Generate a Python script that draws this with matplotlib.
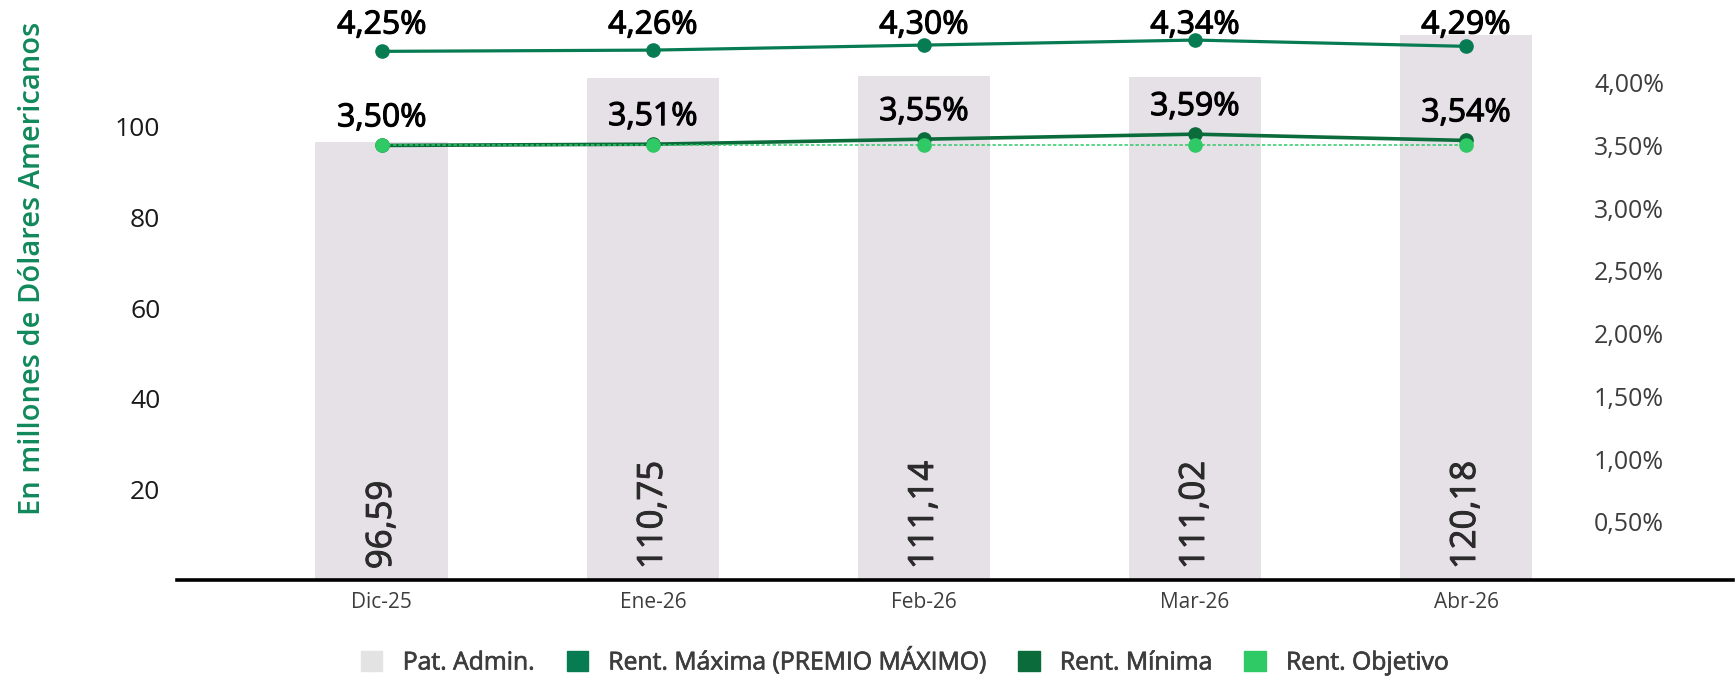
import matplotlib
matplotlib.use('Agg')
import matplotlib.pyplot as plt
import matplotlib.patheffects as pe
from matplotlib.patches import Patch
import numpy as np

categories = ['Dic-25', 'Ene-26', 'Feb-26', 'Mar-26', 'Abr-26']
pat_admin = [96.59, 110.75, 111.14, 111.02, 120.18]
rent_max = [4.25, 4.26, 4.30, 4.34, 4.29]
rent_min = [3.50, 3.51, 3.55, 3.59, 3.54]
rent_obj = [3.50, 3.50, 3.50, 3.50, 3.50]
left_ticks = [20, 40, 60, 80, 100]
right_ticks = [0.5, 1.0, 1.5, 2.0, 2.5, 3.0, 3.5, 4.0]
legend_labels = ['Pat. Admin.', 'Rent. Máxima (PREMIO MÁXIMO)', 'Rent. Mínima', 'Rent. Objetivo']

plt.rcParams['font.family'] = ['Open Sans', 'DejaVu Sans']

C_BAR = '#e6e0e7'
C_MAX = '#077c53'
C_MIN = '#0b6b3b'
C_OBJ = '#2fc965'
C_TXT = '#3d3d3d'

def fmt(v, d=2):
    return f'{v:.{d}f}'.replace('.', ',')

def thick(color, w):
    return [pe.withStroke(linewidth=w, foreground=color)]

fig = plt.figure(figsize=(17.36, 6.8), dpi=100)
W, H = 1736, 680
ax_l, ax_r, ax_b, ax_t = 177, 1585, 580, 20
ax = fig.add_axes([ax_l / W, 1 - ax_b / H, (ax_r - ax_l) / W, (ax_b - ax_t) / H])

x = np.arange(len(categories))
ax.bar(x, pat_admin, width=0.49, color=C_BAR, zorder=1)
ax.set_xlim(-0.756, 4.439)
ax.set_ylim(0, 123.6)
ax.set_yticks(left_ticks)
ax.set_yticklabels([str(t) for t in left_ticks])
ax.tick_params(axis='y', length=0, pad=12, labelsize=19, labelcolor='#1a1a1a')
ax.set_xticks(x)
ax.set_xticklabels(categories)
ax.tick_params(axis='x', length=0, pad=9, labelsize=15, labelcolor=C_TXT)
for s in ax.spines.values():
    s.set_visible(False)
ax.axhline(0, xmin=0, xmax=(1733 - ax_l) / (ax_r - ax_l), color='black', lw=2.6,
           clip_on=False, zorder=5)

for xi, v in zip(x, pat_admin):
    ax.text(xi, 2.4, fmt(v), rotation=90, ha='center', va='bottom',
            fontsize=25, color='#2b2b2b', zorder=3, path_effects=thick('#2b2b2b', 0.7))

ax2 = ax.twinx()
ax2.set_ylim(0.036, 4.50)
ax2.set_yticks(right_ticks)
ax2.set_yticklabels([fmt(t) + '%' for t in right_ticks])
ax2.tick_params(axis='y', length=0, pad=6.5, labelsize=18, labelcolor=C_TXT)
for s in ax2.spines.values():
    s.set_visible(False)

ax2.plot(x, rent_max, color=C_MAX, lw=2.3, marker='o', markersize=9.5, zorder=3)
ax2.plot(x, rent_min, color=C_MIN, lw=2.6, marker='o', markersize=9.5, zorder=3)
ax2.plot(x, rent_obj, color=C_OBJ, lw=1.1, linestyle=(0, (2.2, 1.4)), marker='o',
         markersize=9.5, zorder=4)

off = 0.22
top = 4.46
for series in (rent_max, rent_min):
    for xi, v in zip(x, series):
        ax2.text(xi, min(v + off, top), fmt(v) + '%', ha='center', va='center',
                 fontsize=23, color='black', zorder=6, path_effects=thick('black', 0.8))

fig.text(33 / W, 1 - 268 / H, 'En millones de Dólares Americanos', rotation=90,
         ha='center', va='center', fontsize=21, fontweight='semibold', color='#10895b')

handles = [Patch(color='#e3e3e3'), Patch(color=C_MAX), Patch(color=C_MIN), Patch(color=C_OBJ)]
leg = fig.legend(handles, legend_labels, loc='center', bbox_to_anchor=(905 / W, 1 - 661 / H),
                 ncol=4, frameon=False, handlelength=0.86, handleheight=0.86,
                 handletextpad=0.82, columnspacing=1.3, borderpad=0,
                 prop={'size': 17.8})
for t in leg.get_texts():
    t.set_color(C_TXT)
    t.set_path_effects(thick(C_TXT, 0.5))

fig.savefig('out.png', dpi=100)
